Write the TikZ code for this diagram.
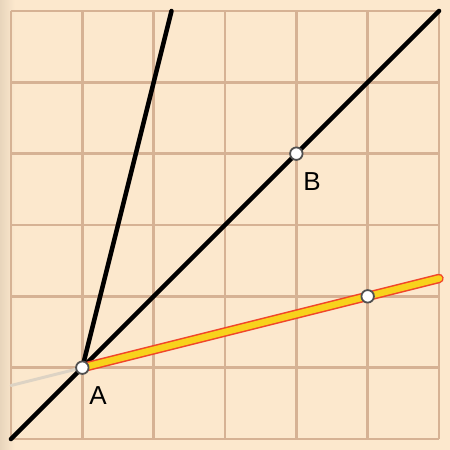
\documentclass[tikz,border=0pt]{standalone}
\usepackage{fontspec}
\setmainfont{Liberation Sans}
\definecolor{bg}{HTML}{FCE8CD}
\definecolor{bgdark}{HTML}{E8D5BC}
\definecolor{gridc}{HTML}{D6B294}
\definecolor{segyellow}{HTML}{F8D21C}
\definecolor{segred}{HTML}{F0452A}
\definecolor{ptedge}{HTML}{505050}
\definecolor{ghost}{HTML}{DDD3C4}
\tikzset{
  gridline/.style={draw=gridc, line width=2.6pt},
  blackline/.style={draw=black, line width=4.5pt, line cap=round},
  ghostline/.style={draw=ghost, line width=3pt, line cap=round},
  pt/.style={circle, draw=ptedge, fill=white, line width=1.8pt, minimum size=12.5pt, inner sep=0pt},
  lbl/.style={font=\fontsize{26}{26}\selectfont, inner sep=0pt}
}
\begin{document}
\begin{tikzpicture}[x=71.33pt,y=71.33pt]
\useasboundingbox (-0.154,-0.154) rectangle (6.154,6.154);
\fill[bg] (-0.154,-0.154) rectangle (6.154,6.154);
\shade[left color=bgdark, right color=bg] (-0.154,-0.154) rectangle (0.05,6.154);
\foreach \i in {0,...,6} {
  \draw[gridline] (\i,0) -- (\i,6);
  \draw[gridline] (0,\i) -- (6,\i);
}
% coordinates
\coordinate (O) at (0,0);
\coordinate (E) at (6,6);
\coordinate (T) at (2.25,6);
\coordinate (S) at (6,2.25);
\coordinate (G) at (0,0.75);
% lines
\draw[ghostline] (G) -- (1,1);
\draw[blackline] (O) -- (E);
\draw[blackline] (1,1) -- (T);
\draw[segred, line width=9.5pt, line cap=round] (1,1) -- (S);
\draw[segyellow, line width=6.5pt, line cap=round] (1,1) -- (S);
% points
\node[pt] (A) at (1,1) {};
\node[pt] (B) at (4,4) {};
\node[pt] (C) at (5,2) {};
\node[lbl] (LA) at (1.22,0.61) {A};
\node[lbl] (LB) at (4.22,3.61) {B};
\end{tikzpicture}
\end{document}
